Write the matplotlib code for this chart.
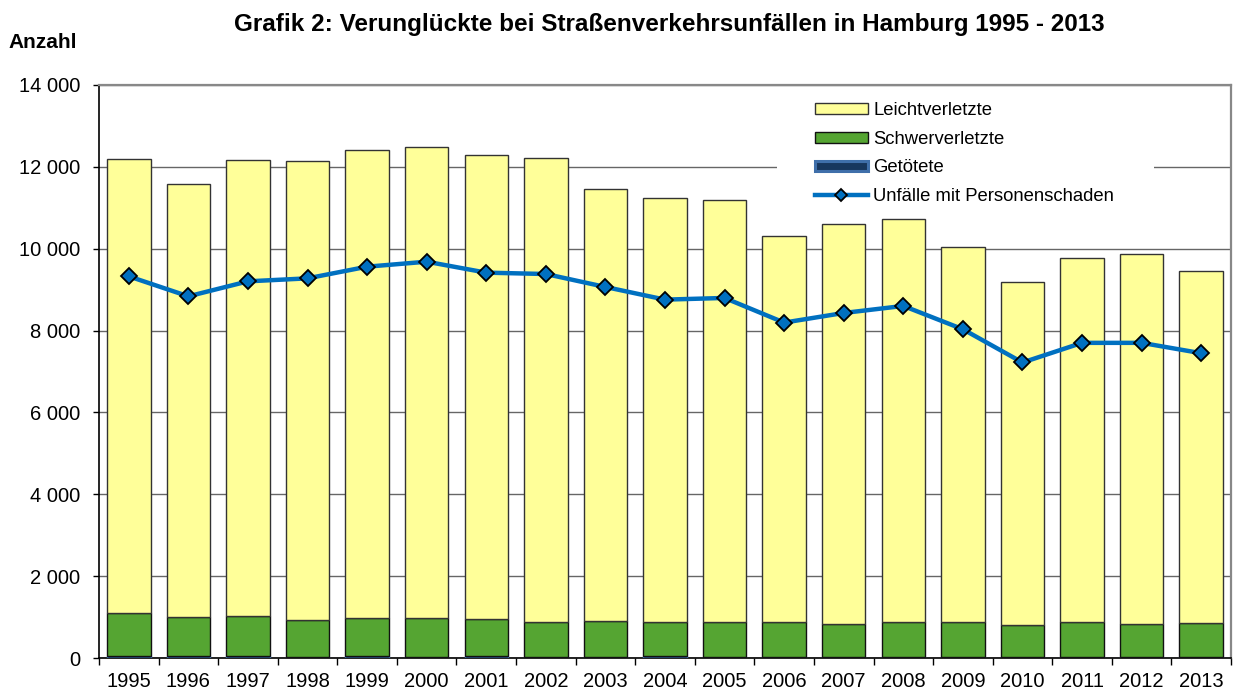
import matplotlib
matplotlib.use("Agg")
import matplotlib.pyplot as plt
from matplotlib.ticker import FuncFormatter, FixedLocator
from matplotlib.patches import Patch, Rectangle
from matplotlib.lines import Line2D
import numpy as np

plt.rcParams['font.family'] = ['Liberation Sans', 'DejaVu Sans']

jahre = ["1995", "1996", "1997", "1998", "1999", "2000", "2001", "2002", "2003", "2004",
         "2005", "2006", "2007", "2008", "2009", "2010", "2011", "2012", "2013"]
getoetete = [53, 45, 41, 36, 44, 34, 52, 28, 32, 39, 28, 24, 28, 31, 24, 21, 31, 30, 29]
schwerverletzte = [1040, 965, 985, 900, 940, 950, 893, 852, 872, 849, 843, 847, 794, 840, 864, 777, 857, 792, 818]
leichtverletzte = [11109, 10567, 11152, 11218, 11438, 11511, 11355, 11347, 10567, 10363,
                   10324, 9439, 9780, 9844, 9145, 8397, 8892, 9040, 8609]
unfaelle = [9325, 8837, 9203, 9276, 9561, 9683, 9415, 9382, 9065, 8756,
            8797, 8195, 8430, 8602, 8032, 7220, 7700, 7700, 7447]

C_LEICHT = '#FFFF99'
C_SCHWER = '#55A532'
C_TOT = '#17375E'
C_TOT_EDGE = '#3F6FAA'
C_LINE = '#0070C0'

fig = plt.figure(figsize=(12.33, 6.94), dpi=100)
ax = fig.add_axes([99/1233, 1-658/694, (1231-99)/1233, (658-85)/694])

x = np.arange(len(jahre))
w = 0.73
g = np.array(getoetete)
s = np.array(schwerverletzte)
l = np.array(leichtverletzte)

ax.bar(x, g, w, color=C_TOT, edgecolor=C_TOT_EDGE, linewidth=1, zorder=3)
ax.bar(x, s, w, bottom=g, color=C_SCHWER, edgecolor='#111111', linewidth=1, zorder=3)
ax.bar(x, l, w, bottom=g + s, color=C_LEICHT, edgecolor='#333333', linewidth=1, zorder=3)
ax.plot(x, unfaelle, color=C_LINE, linewidth=3.2, marker='D', markersize=8.5,
        markerfacecolor=C_LINE, markeredgecolor='black', markeredgewidth=1.3, zorder=5)

ax.set_xlim(-0.5, len(jahre) - 0.5)
ax.set_ylim(0, 14000)
ax.set_yticks(np.arange(0, 14001, 2000))
ax.yaxis.set_major_formatter(FuncFormatter(lambda v, p: f"{int(v):,}".replace(",", " ")))
ax.yaxis.grid(True, color='#666666', linewidth=1)
ax.set_axisbelow(True)

ax.set_xticks(x)
ax.set_xticklabels(jahre)
ax.tick_params(axis='x', which='major', length=0, pad=10, labelsize=14.5)
ax.xaxis.set_minor_locator(FixedLocator(np.arange(-0.5, len(jahre), 1)))
ax.tick_params(axis='x', which='minor', length=5, width=1, color='black', direction='out')
ax.tick_params(axis='y', length=4.5, width=1, direction='out', labelsize=14.5, pad=9)

for side in ['top', 'right']:
    ax.spines[side].set_color('#888888')
    ax.spines[side].set_linewidth(1.6)
for side in ['left', 'bottom']:
    ax.spines[side].set_color('black')
    ax.spines[side].set_linewidth(1.2)

# white legend background (covers gridline only, bars drawn on top)
ax.add_patch(Rectangle((0.599, 0.775), 0.333, 0.215, transform=ax.transAxes,
                       facecolor='white', edgecolor='none', zorder=1))

handles = [
    Patch(facecolor=C_LEICHT, edgecolor='#333333', linewidth=1),
    Patch(facecolor=C_SCHWER, edgecolor='#111111', linewidth=1),
    Patch(facecolor=C_TOT, edgecolor=C_TOT_EDGE, linewidth=2.2),
    Line2D([], [], color=C_LINE, linewidth=3.2, marker='D', markersize=6.5,
           markerfacecolor=C_LINE, markeredgecolor='black', markeredgewidth=1.3),
]
labels = ['Leichtverletzte', 'Schwerverletzte', 'Getötete', 'Unfälle mit Personenschaden']
leg = ax.legend(handles, labels, loc='upper left', bbox_to_anchor=(0.6325, 0.970),
                frameon=False, fontsize=13.3, handlelength=2.86, handleheight=0.5,
                handletextpad=0.3, labelspacing=0.63, borderpad=0, borderaxespad=0)
leg.set_zorder(10)

fig.text(669.5/1233, 1-25/694, "Grafik 2: Verunglückte bei Straßenverkehrsunfällen in Hamburg 1995 - 2013",
         ha='center', va='center', fontsize=17.5, fontweight='bold')
fig.text(8/1233, 1-43/694, "Anzahl", ha='left', va='center', fontsize=15, fontweight='bold')

fig.savefig("out.png", dpi=100)
